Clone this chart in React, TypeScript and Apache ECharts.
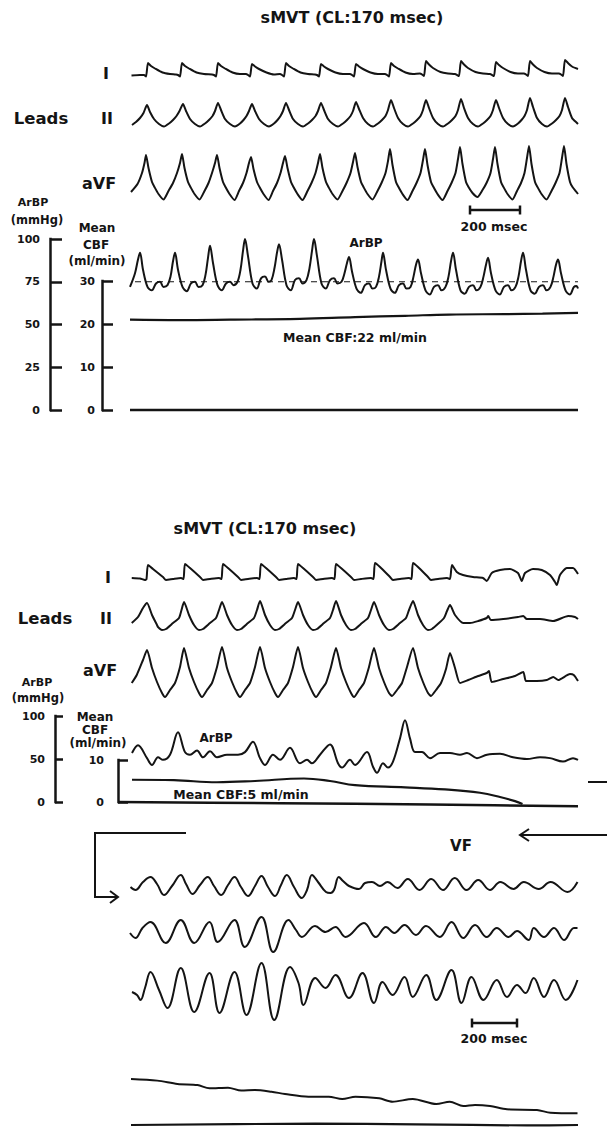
import React, { useEffect, useRef } from "react";
import * as echarts from "echarts";

type P = [number, number];

// ---------- time axis (msec) shared by all strips ----------
const T_MAX = 1792;

// ---------- TOP PANEL (sMVT) ----------
const TOP_I: P[] = [[6,-0.15],[40,-0.1],[56,-0.1],[64,-0.25],[72,1.1],[84,0.8],[100,0.55],[130,0.15],[160,0.0],[184,-0.05],[192,-0.1],[200,-0.25],
[208,1.1],[220,0.8],[236,0.55],[266,0.15],[296,0.0],[328,-0.05],[336,-0.1],[344,-0.25],
[352,1.1],[364,0.8],[380,0.55],[410,0.15],[440,0.0],[464,0.0],[472,-0.1],[480,-0.25],
[488,1.0],[500,0.75],[516,0.5],[546,0.15],[576,-0.05],[600,0.0],[608,-0.1],[616,-0.25],
[624,1.1],[636,0.8],[652,0.55],[682,0.15],[712,0.0],[740,-0.05],[748,-0.1],[756,-0.25],
[764,1.0],[776,0.75],[792,0.5],[822,0.15],[852,0.0],[880,0.0],[888,-0.1],[896,-0.25],
[904,1.0],[916,0.75],[932,0.5],[962,0.15],[992,0.0],[1020,0.0],[1028,-0.1],[1036,-0.25],
[1044,1.1],[1056,0.8],[1072,0.55],[1102,0.15],[1132,0.0],[1160,0.05],[1168,-0.05],[1176,-0.2],
[1184,1.3],[1196,0.95],[1212,0.6],[1242,0.2],[1272,0.05],[1300,0.0],[1308,-0.1],[1316,-0.2],
[1324,1.3],[1336,0.95],[1352,0.6],[1382,0.2],[1412,0.05],[1440,0.0],[1448,-0.1],[1456,-0.2],
[1464,1.2],[1476,0.9],[1492,0.6],[1522,0.2],[1552,0.05],[1576,0.05],[1584,-0.05],[1592,-0.2],
[1600,1.3],[1612,0.95],[1628,0.6],[1658,0.2],[1688,0.05],[1716,0.05],[1724,-0.05],[1732,-0.2],
[1740,1.4],[1752,1.1],[1768,0.75],[1792,0.5]];

const TOP_II: P[] = [[8,-0.7],[24,-0.4],[40,0.0],[54,0.5],[68,1.3],
[80,0.6],[96,-0.1],[116,-0.6],[136,-0.85],[156,-0.55],[172,-0.2],[186,0.2],[198,0.7],[212,1.4],
[224,0.7],[240,-0.1],[260,-0.6],[280,-0.85],[300,-0.55],[316,-0.2],[330,0.2],[340,0.7],[352,1.5],
[364,0.8],[380,-0.1],[400,-0.6],[420,-0.85],[440,-0.55],[454,-0.2],[466,0.2],[476,0.7],[488,1.4],
[500,0.7],[516,-0.1],[536,-0.6],[556,-0.85],[576,-0.55],[590,-0.2],[602,0.2],[612,0.7],[624,1.5],
[636,0.8],[652,-0.1],[672,-0.6],[692,-0.85],[712,-0.55],[728,-0.2],[742,0.2],[752,0.7],[764,1.5],
[776,0.8],[792,-0.1],[812,-0.6],[832,-0.85],[852,-0.55],[868,-0.2],[882,0.2],[892,0.7],[904,1.6],
[916,0.9],[932,0.0],[952,-0.6],[972,-0.85],[992,-0.55],[1008,-0.2],[1022,0.2],[1032,0.8],[1044,1.8],
[1056,1.0],[1072,0.0],[1092,-0.6],[1112,-0.85],[1132,-0.55],[1148,-0.2],[1162,0.2],[1172,0.8],[1184,1.8],
[1196,1.0],[1212,0.0],[1232,-0.6],[1252,-0.85],[1272,-0.55],[1288,-0.2],[1302,0.2],[1312,0.8],[1324,1.9],
[1336,1.0],[1352,0.0],[1372,-0.6],[1392,-0.85],[1412,-0.55],[1428,-0.2],[1442,0.2],[1452,0.8],[1464,1.8],
[1476,1.0],[1492,0.0],[1512,-0.6],[1532,-0.85],[1552,-0.55],[1566,-0.2],[1578,0.2],[1588,0.8],[1600,2.0],
[1612,1.1],[1628,0.0],[1648,-0.6],[1668,-0.85],[1688,-0.55],[1704,-0.2],[1718,0.2],[1728,0.8],[1740,2.0],
[1752,1.1],[1768,0.0],[1788,-0.5],[1792,-0.6]];

const TOP_AVF: P[] = [[4,-1.4],[30,-0.6],[48,0.5],[58,1.5],[64,2.3],
[74,1.0],[88,-0.4],[98,-0.9],[114,-1.6],[134,-2.15],[154,-1.3],[172,-0.5],[188,0.5],[200,1.5],[208,2.4],
[218,1.0],[232,-0.4],[242,-0.9],[258,-1.6],[278,-2.15],[298,-1.3],[314,-0.5],[328,0.5],[340,1.5],[348,2.3],
[358,1.0],[372,-0.4],[382,-0.9],[398,-1.6],[418,-2.2],[436,-1.3],[452,-0.5],[466,0.5],[476,1.5],[484,2.1],
[494,0.9],[508,-0.4],[518,-0.9],[534,-1.6],[554,-2.2],[572,-1.3],[588,-0.5],[602,0.5],[612,1.5],[620,2.2],
[630,1.0],[644,-0.4],[654,-0.9],[670,-1.6],[690,-2.2],[710,-1.3],[726,-0.5],[742,0.5],[752,1.5],[760,2.4],
[770,1.0],[784,-0.4],[794,-0.9],[810,-1.6],[830,-2.15],[850,-1.3],[866,-0.5],[882,0.5],[892,1.6],[900,2.5],
[910,1.1],[924,-0.4],[934,-0.9],[950,-1.6],[970,-2.15],[990,-1.3],[1006,-0.5],[1022,0.5],[1032,1.7],[1040,2.9],
[1050,1.3],[1064,-0.4],[1074,-0.9],[1090,-1.6],[1110,-2.2],[1130,-1.3],[1146,-0.5],[1162,0.5],[1172,1.8],[1180,2.9],
[1190,1.3],[1204,-0.4],[1214,-0.9],[1230,-1.6],[1250,-2.2],[1270,-1.3],[1286,-0.5],[1302,0.5],[1312,1.9],[1320,3.1],
[1330,1.4],[1344,-0.4],[1354,-0.9],[1370,-1.5],[1390,-1.9],[1410,-1.2],[1426,-0.5],[1442,0.5],[1452,1.9],[1460,3.1],
[1470,1.4],[1484,-0.4],[1494,-0.9],[1510,-1.6],[1530,-2.15],[1548,-1.3],[1564,-0.5],[1578,0.5],[1588,2.0],[1596,3.2],
[1606,1.4],[1620,-0.4],[1630,-0.9],[1646,-1.6],[1666,-2.15],[1686,-1.3],[1702,-0.5],[1718,0.5],[1728,2.0],[1736,3.2],
[1746,1.4],[1760,-0.4],[1770,-0.9],[1786,-1.4],[1792,-1.6]];

const TOP_ARBP: P[] = [[0,72],[20,80],[32,88],[40,92],[52,82],[70,72],[87,70],[104,74],[120,75],[134,72],[150,73],[162,78],[172,87],
[180,92],[192,82],[210,72],[227,69.5],[244,74],[260,75],[274,72],[290,73],[302,79],[312,89],
[320,96],[332,86],[350,73],[367,70],[384,74],[400,75],[414,73],[430,75],[442,82],[452,93],
[460,100],[472,90],[490,74],[507,71],[524,77],[540,78],[554,75],[566,76],[578,83],[588,92],
[596,97],[608,88],[626,73],[643,70],[660,76],[676,77],[690,74],[706,76],[718,83],[728,93],
[736,100],[748,90],[766,74],[783,71],[800,76],[816,77],[830,74],[846,75],[858,80],[868,86],
[876,89.5],[888,81],[906,71],[923,68.5],[940,73],[956,74],[970,71],[984,72],[996,78],[1006,87],
[1012,92],[1024,82],[1042,71],[1059,68.5],[1076,73],[1092,74],[1106,71],[1122,72],[1134,78],[1144,85],
[1152,88],[1164,80],[1182,70],[1199,67.5],[1216,72],[1232,73],[1246,70],[1262,72],[1274,78],[1284,87],
[1292,92],[1304,82],[1322,70],[1339,68],[1356,72],[1372,73],[1386,70],[1402,72],[1414,78],[1424,85],
[1432,89],[1444,80],[1462,70],[1479,67.5],[1496,72],[1512,73],[1526,70],[1542,72],[1554,78],[1564,87],
[1572,92],[1584,82],[1602,70],[1619,68],[1636,72],[1652,73],[1666,70],[1682,72],[1694,78],[1704,85],
[1712,88],[1724,80],[1742,70],[1759,67.5],[1776,72],[1786,72.5],[1792,71]];

const TOP_ARBP_MEAN: P[] = [[20,75],[1792,75]];
const TOP_CBF: P[] = [[0,21.0],[200,20.9],[400,21.0],[680,21.2],[900,21.6],[1100,21.9],[1276,22.2],[1500,22.3],[1650,22.4],[1792,22.6]];
const TOP_CBF_ZERO: P[] = [[0,0],[1792,0]];
const TOP_SCALE: P[] = [[1360,-3.2],[1560,-3.2]];

const ARBP_TICKS_TOP = { min: 0, max: 100, interval: 25 };
const CBF_TICKS_TOP = { min: 0, max: 30, interval: 10 };

// ---------- BOTTOM PANEL (sMVT -> VF) ----------
const BOT_I: P[] = [[7,0],[40,-0.05],[60,-0.2],[66,-0.1],[72,1.3],[92,0.9],[132,0.1],[144,-0.2],[172,-0.1],[204,0.0],[214,-0.1],
[220,1.4],[240,1.0],[280,0.1],[292,-0.2],[320,-0.1],[356,0.0],[366,-0.1],
[372,1.4],[392,1.0],[432,0.1],[444,-0.2],[472,-0.1],[508,0.0],[518,-0.1],
[524,1.4],[544,1.0],[584,0.1],[596,-0.2],[624,-0.1],[656,0.0],[666,-0.1],
[672,1.4],[692,1.0],[732,0.1],[744,-0.2],[772,-0.1],[808,0.0],[818,-0.1],
[824,1.4],[844,1.0],[884,0.1],[896,-0.2],[924,-0.1],[964,0.0],[974,-0.1],
[980,1.5],[1000,1.1],[1040,0.1],[1052,-0.2],[1080,-0.1],[1116,0.0],[1126,-0.1],
[1132,1.5],[1152,1.1],[1192,0.1],[1204,-0.2],[1232,-0.1],[1268,0.0],[1280,-0.1],
[1288,1.3],[1307,0.6],[1332,0.3],[1372,0.1],[1412,0.0],[1427,-0.3],[1447,0.5],[1480,0.8],[1520,0.9],[1552,0.5],[1567,-0.3],
[1580,0.5],[1612,0.9],[1647,0.8],[1680,0.3],[1700,-0.4],[1707,-0.7],[1720,0.3],[1747,1.0],[1772,1.0],[1792,0.4]];

const BOT_II: P[] = [[7,-0.5],[32,0.1],[52,1.0],[68,1.5],[88,0.3],[108,-0.7],[112,-0.9],[128,-1.2],[144,-1.1],[172,-0.5],[196,0.0],[206,0.8],
[216,1.6],[236,0.3],[256,-0.7],[276,-1.2],[292,-1.1],[320,-0.5],[344,0.0],[356,0.8],
[368,1.6],[388,0.3],[408,-0.7],[428,-1.2],[444,-1.1],[472,-0.5],[496,0.0],[508,0.8],
[520,1.7],[540,0.3],[560,-0.7],[580,-1.2],[596,-1.1],[624,-0.5],[648,0.0],[660,0.8],
[672,1.6],[692,0.3],[712,-0.7],[732,-1.2],[748,-1.1],[776,-0.5],[800,0.0],[812,0.8],
[824,1.7],[844,0.3],[864,-0.7],[884,-1.2],[900,-1.1],[928,-0.5],[952,0.0],[964,0.8],
[976,1.6],[996,0.3],[1016,-0.7],[1036,-1.2],[1052,-1.1],[1080,-0.5],[1104,0.0],[1116,0.8],
[1132,1.7],[1152,0.3],[1172,-0.7],[1192,-1.2],[1208,-1.1],[1236,-0.5],[1256,0.0],[1268,0.7],
[1280,1.3],[1300,0.3],[1333,-0.5],[1360,-0.5],[1393,-0.3],[1427,0.0],[1433,0.2],[1443,-0.2],[1493,-0.1],[1552,0.1],[1573,0.2],
[1587,-0.1],[1640,-0.1],[1693,-0.3],[1753,0.2],[1780,0.1],[1792,-0.1]];

const BOT_AVF: P[] = [[7,-0.8],[27,0.0],[52,1.5],[68,2.5],[88,0.7],[108,-0.7],[128,-1.8],[140,-2.2],[160,-1.5],[180,-0.8],[200,0.8],
[216,2.7],[236,0.7],[256,-0.7],[276,-1.8],[288,-2.2],[308,-1.5],[328,-0.8],[348,0.8],
[368,2.8],[388,0.7],[408,-0.7],[428,-1.8],[440,-2.2],[460,-1.5],[480,-0.8],[500,0.8],
[520,2.8],[540,0.7],[560,-0.7],[580,-1.8],[592,-2.2],[612,-1.5],[632,-0.8],[652,0.8],
[672,2.8],[692,0.7],[712,-0.7],[732,-1.8],[744,-2.2],[764,-1.5],[784,-0.8],[804,0.8],
[824,2.7],[844,0.7],[864,-0.7],[884,-1.8],[896,-2.2],[916,-1.5],[936,-0.8],[956,0.8],
[976,2.7],[996,0.7],[1016,-0.7],[1036,-1.8],[1048,-2.1],[1068,-1.5],[1088,-0.8],[1108,0.8],
[1132,2.7],[1152,0.7],[1172,-0.7],[1192,-1.8],[1204,-2.1],[1224,-1.5],[1244,-0.8],[1264,0.6],
[1280,2.2],[1300,0.7],[1320,-0.8],[1353,-0.5],[1393,-0.1],[1427,0.2],[1436,0.4],[1447,-0.7],[1493,-0.4],[1540,-0.1],
[1573,0.3],[1584,-0.6],[1627,-0.6],[1667,-0.5],[1693,-0.2],[1713,-0.5],[1760,0.1],[1775,0.0],[1792,-0.6]];

const BOT_ARBP: P[] = [[8,57],[32,66],[68,51],[88,43],[112,52],[132,49],[160,55],[192,81],[220,58],[240,55],[268,60],[292,52],
[320,59],[348,52],[388,55],[432,55],[460,58],[492,70],[520,51],[540,43],[572,55],[600,49],[640,63],[680,45],[708,49],
[728,45],[760,55],[800,67],[832,45],[848,40],[880,49],[900,43],[948,58],[972,41],[988,34],[1012,45],[1032,40],[1052,47],
[1080,74],[1100,95],[1120,74],[1140,58],[1168,58],[1200,51],[1240,57],[1280,57],[1320,55],[1348,57],[1388,51],[1428,55],
[1480,56],[1532,52],[1588,50],[1640,52],[1680,51],[1732,47],[1772,51],[1792,49]];

const BOT_CBF: P[] = [[8,5.3],[176,5.2],[348,4.7],[500,5.0],[696,5.6],[800,5.0],[900,4.0],[1100,3.5],[1260,3.0],[1400,2.2],[1480,1.2],[1540,0.2],[1570,-0.5]];
const BOT_CBF_ZERO: P[] = [[-48,0],[600,-0.3],[1200,-0.6],[1792,-1.0]];
const ARBP_TICKS_BOT = { min: 0, max: 100, interval: 50 };
const CBF_TICKS_BOT = { min: 0, max: 10, interval: 10 };

// ---------- VF continuation ----------
const VF_1: P[] = [[2,-0.2],[22,-0.5],[52,0.3],[82,0.8],[108,0.1],[136,-1.0],[168,-0.1],[203,1.0],[224,0.1],[250,-0.9],[280,0],
[311,0.8],[336,-0.1],[365,-1.0],[392,0],[418,0.8],[444,-0.2],[472,-1.1],[500,-0.1],[526,0.9],[552,-0.2],[580,-1.1],[604,0],
[627,1.0],[656,-0.2],[687,-1.3],[708,-0.5],[728,1.0],[752,0.3],[784,-0.7],[802,-0.8],[816,-0.5],[835,0.8],[852,0.4],[876,-0.1],
[916,-0.4],[940,0.2],[968,0.3],[1000,-0.1],[1030,0.3],[1070,-0.3],[1111,0.6],[1158,-0.5],[1205,0.6],[1252,-0.5],[1299,0.7],
[1346,-0.5],[1393,0.5],[1440,-0.5],[1481,0.3],[1534,-0.4],[1575,0.3],[1635,-0.4],[1682,0.3],[1750,-0.7],[1790,0.3]];

const VF_2: P[] = [[0,-0.1],[22,-0.6],[50,0.4],[82,1.0],[143,-1.1],[203,1.2],[257,-1.1],[318,1.0],[351,-1.0],[418,1.2],[459,-1.5],
[526,1.5],[573,-2.0],[634,1.2],[664,0.2],[687,-0.5],[740,0.6],[782,0.0],[822,0.5],[862,-0.5],[936,0.9],[983,-0.5],[1024,0.5],
[1057,-0.1],[1098,0.7],[1144,-0.3],[1184,0.6],[1239,-0.5],[1286,1.0],[1333,-0.6],[1380,0.7],[1427,-0.5],[1467,0.4],[1514,-0.5],
[1548,0.1],[1595,-0.8],[1615,0.4],[1656,-0.5],[1696,0.4],[1736,-0.8],[1776,0.4],[1790,0.4]];

const VF_3: P[] = [[8,-0.2],[28,-0.5],[42,-1.0],[60,0.2],[82,1.8],[116,0.0],[150,-1.8],[203,2.2],[257,-2.2],[318,1.7],[358,-2.3],
[418,1.8],[466,-2.5],[526,2.7],[577,-3.0],[640,2.3],[674,0.7],[694,-1.5],[741,1.2],[782,0.2],[822,1.5],[876,-0.8],[930,1.7],
[976,-1.3],[1010,0.8],[1050,-0.5],[1098,1.3],[1131,-0.7],[1185,1.5],[1225,-1.0],[1286,2.0],[1326,-1.3],[1366,1.3],[1414,-1.0],
[1467,1.0],[1508,-0.7],[1548,0.5],[1582,-0.3],[1615,1.2],[1656,-0.7],[1696,1.0],[1743,-1.0],[1790,1.0]];
const VF_SCALE: P[] = [[1368,-3.3],[1548,-3.3]];

const VF_PRESSURE: P[] = [[4,53.5],[109,51.6],[190,47.7],[270,46.5],[318,42.7],[392,43.4],[445,40.0],[499,40.7],[566,38.7],[620,36.0],
[714,32.9],[795,32.9],[849,30.2],[902,32.9],[997,31.0],[1050,27.1],[1131,30.2],[1225,24.4],[1279,27.1],[1333,22.1],[1380,23.3],
[1440,22.1],[1508,18.3],[1628,17.4],[1682,14.3],[1790,13.6]];
const VF_ZERO: P[] = [[4,0],[740,1.5],[1144,0.8],[1588,-0.5],[1792,0]];

// ---------- texts ----------
const TITLE = "sMVT (CL:170 msec)";
const LEAD_NAMES = ["I", "II", "aVF"];

const INK = "#141414";
const FONT = '"DejaVu Sans", "Liberation Sans", sans-serif';

export default function App() {
  const ref = useRef<HTMLDivElement>(null);
  useEffect(() => {
    if (!ref.current) return;
    const chart = echarts.init(ref.current, undefined, { renderer: "svg" });

    const grids: any[] = [];
    const xAxes: any[] = [];
    const yAxes: any[] = [];
    const series: any[] = [];

    const addGrid = (left: number, top: number, width: number, height: number, xmin: number, ymin: number, ymax: number, yExtra?: any) => {
      const i = grids.length;
      grids.push({ left, top, width, height, containLabel: false, outerBoundsMode: "none" });
      xAxes.push({ gridIndex: i, type: "value", min: xmin, max: T_MAX, show: false });
      yAxes.push(
        yExtra
          ? {
              gridIndex: i, type: "value", min: ymin, max: ymax, position: "left", show: true,
              splitLine: { show: false },
              axisLine: { show: true, onZero: false, lineStyle: { color: INK, width: 2.5, cap: "square" } },
              axisTick: { show: true, inside: true, length: yExtra.tick, lineStyle: { color: INK, width: 2.5 } },
              axisLabel: { show: true, margin: yExtra.margin, color: INK, fontSize: 11, fontWeight: "bold", fontFamily: FONT, showMinLabel: true, showMaxLabel: true },
              interval: yExtra.interval, offset: yExtra.offset,
            }
          : { gridIndex: i, type: "value", min: ymin, max: ymax, show: false, axisLine: { onZero: false } }
      );
      return i;
    };
    const addLine = (g: number, data: P[], opts: any = {}) => {
      series.push({
        type: "line", xAxisIndex: g, yAxisIndex: g, data, showSymbol: false, symbol: "none",
        smooth: opts.smooth ?? 0.25, clip: false, silent: true,
        lineStyle: { color: INK, width: opts.width ?? 2, type: opts.type ?? "solid", opacity: 1 },
        ...(opts.extra || {}),
      });
    };
    const addBar = (g: number, data: P[]) => {
      series.push({
        type: "line", xAxisIndex: g, yAxisIndex: g, data, showSymbol: true, symbol: "rect", symbolSize: [2.5, 9],
        itemStyle: { color: INK }, lineStyle: { color: INK, width: 2.5 }, clip: false, silent: true,
      });
    };

    // top panel
    const gTI = addGrid(130, 54, 448, 30, 0, -1, 2);
    const gTII = addGrid(130, 88, 448, 50, 0, -2, 3);
    const gTaVF = addGrid(130, 138, 448, 70, 0, -3, 4);
    const gTA = addGrid(130, 239, 448, 171, 0, ARBP_TICKS_TOP.min, ARBP_TICKS_TOP.max, { interval: ARBP_TICKS_TOP.interval, offset: 80, tick: 12, margin: 10 });
    const gTC = addGrid(130, 281, 448, 129, 0, CBF_TICKS_TOP.min, CBF_TICKS_TOP.max, { interval: CBF_TICKS_TOP.interval, offset: 28, tick: 11, margin: 7 });
    addLine(gTI, TOP_I, { smooth: 0.2 });
    addLine(gTII, TOP_II, { smooth: 0.2 });
    addLine(gTaVF, TOP_AVF, { smooth: 0.2 });
    addBar(gTaVF, TOP_SCALE);
    addLine(gTA, TOP_ARBP, { smooth: 0.35 });
    addLine(gTA, TOP_ARBP_MEAN, { width: 1.1, type: [6, 5], smooth: false });
    addLine(gTC, TOP_CBF, { smooth: 0.4, width: 2.2 });
    addLine(gTC, TOP_CBF_ZERO, { smooth: false, width: 2.5 });

    // bottom panel
    const gBI = addGrid(130, 558, 448, 40, 0, -2, 2);
    const gBII = addGrid(130, 598, 448, 40, 0, -2, 2);
    const gBaVF = addGrid(130, 635, 448, 70, 0, -3, 4);
    const gBA = addGrid(130, 716, 448, 86, 0, ARBP_TICKS_BOT.min, ARBP_TICKS_BOT.max, { interval: ARBP_TICKS_BOT.interval, offset: 75, tick: 8, margin: 10 });
    const gBC = addGrid(118, 760, 460, 42, -48, CBF_TICKS_BOT.min, CBF_TICKS_BOT.max, { interval: CBF_TICKS_BOT.interval, offset: 0, tick: 10, margin: 14 });
    addLine(gBI, BOT_I, { smooth: 0.2 });
    addLine(gBII, BOT_II, { smooth: 0.2 });
    addLine(gBaVF, BOT_AVF, { smooth: 0.2 });
    addLine(gBA, BOT_ARBP, { smooth: 0.35 });
    addLine(gBC, BOT_CBF, { smooth: 0.4, width: 2.2 });
    addLine(gBC, BOT_CBF_ZERO, { smooth: 0.3, width: 2.5 });

    // VF strips
    const gV1 = addGrid(130, 870, 448, 35, 0, -2, 1.5);
    const gV2 = addGrid(130, 912, 448, 45, 0, -2.5, 2);
    const gV3 = addGrid(130, 955, 448, 70, 0, -3.5, 3.5);
    const gVP = addGrid(130, 1039, 448, 86, 0, 0, 100);
    addLine(gV1, VF_1, { smooth: 0.4 });
    addLine(gV2, VF_2, { smooth: 0.4 });
    addLine(gV3, VF_3, { smooth: 0.4 });
    addBar(gV3, VF_SCALE);
    addLine(gVP, VF_PRESSURE, { smooth: 0.3 });
    addLine(gVP, VF_ZERO, { smooth: 0.3, width: 2.2 });

    const txt = (text: string, x: number, y: number, size: number, align = "center") => ({
      type: "text", x, y, silent: true,
      style: { text, font: `bold ${size}px ${FONT}`, fill: INK, align, verticalAlign: "middle", textAlign: align, textVerticalAlign: "middle" },
    });
    const ln = (pts: number[][], w = 2) => ({
      type: "polyline", silent: true, shape: { points: pts }, style: { stroke: INK, lineWidth: w, fill: "none" },
    });

    const graphic: any[] = [
      // top
      txt(TITLE, 352, 17, 16),
      txt(LEAD_NAMES[0], 106, 73, 16),
      txt("Leads", 41, 118, 16.5),
      txt(LEAD_NAMES[1], 107, 118, 16),
      txt(LEAD_NAMES[2], 99, 183, 16),
      txt("ArBP", 33, 202, 11),
      txt("(mmHg)", 37, 220, 11.5),
      txt("Mean", 97, 228, 12),
      txt("CBF", 96, 245, 12),
      txt("(ml/min)", 97, 261, 12),
      txt("ArBP", 366, 243, 12),
      txt("Mean CBF:22 ml/min", 355, 337, 12.5),
      txt("200 msec", 494, 226, 12.5),
      // bottom
      txt(TITLE, 265, 528, 16),
      txt(LEAD_NAMES[0], 108, 577, 16),
      txt("Leads", 45, 618, 16.5),
      txt(LEAD_NAMES[1], 106, 618, 16),
      txt(LEAD_NAMES[2], 100, 670, 16),
      txt("ArBP", 37, 682, 11),
      txt("(mmHg)", 38, 698, 11.5),
      txt("Mean", 95, 717, 12),
      txt("CBF", 95, 730, 12),
      txt("(ml/min)", 98, 743, 12),
      txt("ArBP", 216, 738, 12),
      txt("Mean CBF:5 ml/min", 241, 794, 12.5),
      txt("VF", 461, 846, 15),
      txt("200 msec", 494, 1038, 12.5),
      // connectors / arrows
      ln([[588, 782], [607, 782]]),
      ln([[186, 833], [95, 833], [95, 897], [117, 897]]),
      ln([[110, 891], [118, 897], [110, 903]]),
      ln([[520, 835], [607, 835]]),
      ln([[529, 829], [520, 835], [529, 841]]),
    ];

    chart.setOption({
      animation: false,
      backgroundColor: "#ffffff",
      grid: grids,
      xAxis: xAxes,
      yAxis: yAxes,
      series,
      graphic,
    });
    return () => chart.dispose();
  }, []);

  return <div ref={ref} style={{ position: "absolute", left: 0, top: 0, width: 607, height: 1127, background: "#fff" }} />;
}
